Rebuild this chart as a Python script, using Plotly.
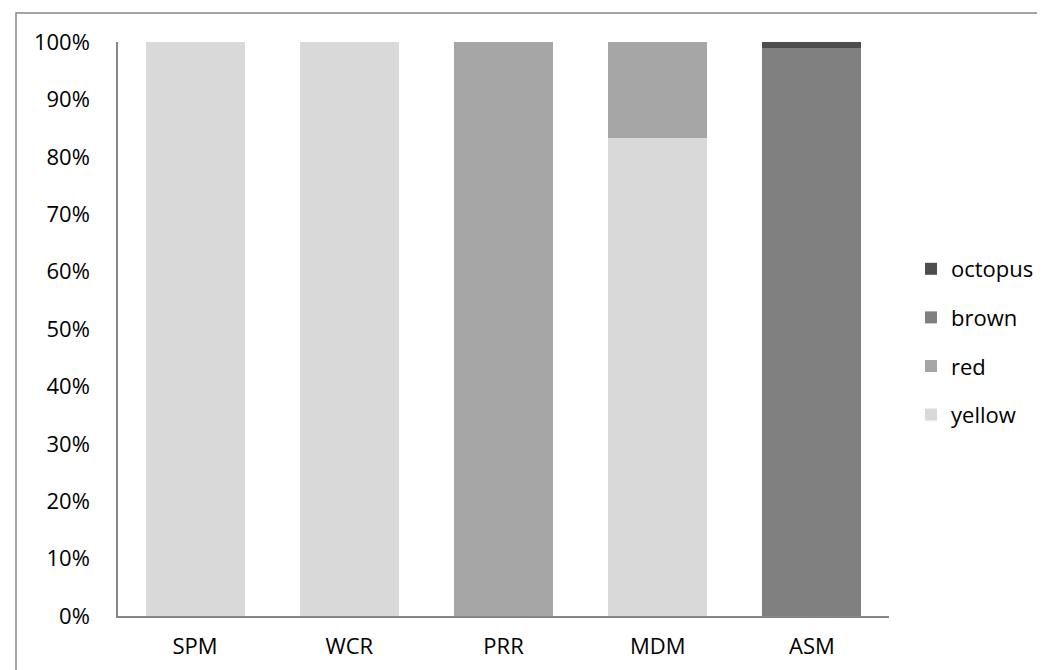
import plotly.graph_objects as go

categories = ["SPM", "WCR", "PRR", "MDM", "ASM"]
yellow = [100, 100, 0, 83.3, 0]
red = [0, 0, 100, 16.7, 0]
brown = [0, 0, 0, 0, 99]
octopus = [0, 0, 0, 0, 1]

series = [
    ("yellow", yellow, "#d9d9d9", 4),
    ("red", red, "#a6a6a6", 3),
    ("brown", brown, "#808080", 2),
    ("octopus", octopus, "#4d4d4d", 1),
]

W, H = 1045, 670
L, R, T, B = 110, 164, 34, 62
pw, ph = W - L - R, H - T - B

fig = go.Figure()
for name, vals, col, rank in series:
    fig.add_trace(go.Bar(
        x=categories, y=vals, name=name, legendgroup=name, legendrank=rank,
        marker=dict(color=col, line=dict(width=0)),
    ))

font = dict(family="Open Sans", size=22, color="#000000")

def px_x(p):
    return (p - L) / pw

def px_y(p):
    return (H - B - p) / ph

fig.update_layout(
    width=W, height=H,
    margin=dict(l=L, r=R, t=T, b=B),
    barmode="stack", barnorm="fraction", bargap=0.358,
    paper_bgcolor="white", plot_bgcolor="white",
    font=font,
    showlegend=True,
    legend=dict(
        x=px_x(903), y=px_y(240), xanchor="left", yanchor="top",
        traceorder="grouped", tracegroupgap=17,
        font=font, bgcolor="rgba(0,0,0,0)", itemwidth=30,
    ),
    xaxis=dict(
        showline=True, linecolor="#868686", linewidth=1.5,
        showgrid=False, ticks="", ticklabelstandoff=10,
        tickfont=font,
    ),
    yaxis=dict(
        range=[0, 1], dtick=0.1, tickformat=".0%",
        showline=True, linecolor="#868686", linewidth=1.5,
        showgrid=False, zeroline=False, ticks="", ticklabelstandoff=22,
        tickfont=font,
    ),
    shapes=[dict(
        type="rect", xref="paper", yref="paper",
        x0=px_x(8), y0=px_y(H + 20), x1=px_x(W + 20), y1=px_y(5),
        line=dict(color="#878787", width=1.5), fillcolor="rgba(0,0,0,0)",
        layer="below",
    )],
)

fig.write_html("out.html", config={"displayModeBar": False})
